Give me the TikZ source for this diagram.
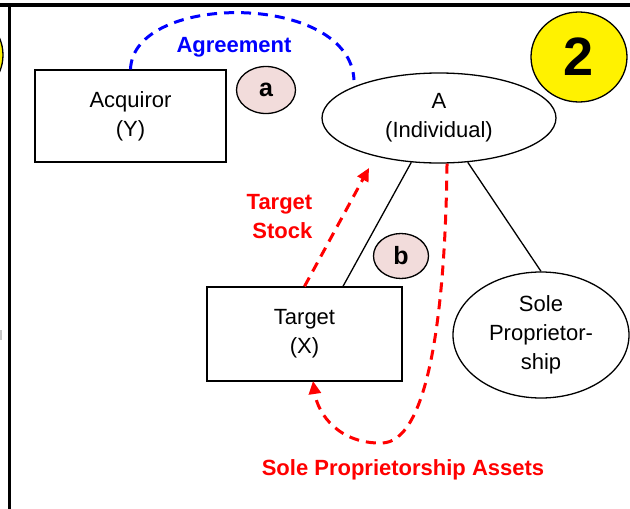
\documentclass[tikz,border=0pt]{standalone}
\usepackage{fontspec}
\setmainfont{Liberation Sans}
\usetikzlibrary{arrows.meta,shapes.geometric}
\definecolor{pinkfill}{HTML}{F2DCDB}
\definecolor{lblred}{HTML}{FF0000}
\definecolor{lblblue}{HTML}{0000FF}
\begin{document}
\begin{tikzpicture}[x=1pt,y=-1pt,
  txt/.style={font=\fontsize{22}{29}\selectfont, align=center, inner sep=0pt},
  boxnode/.style={txt, draw, line width=1.3pt},
  ovalnode/.style={txt, ellipse, draw, line width=1.3pt},
  tagnode/.style={ellipse, draw, line width=1.3pt, fill=pinkfill, inner sep=0pt,
    font=\fontsize{25}{25}\selectfont\bfseries},
  bluelbl/.style={text=lblblue, font=\fontsize{22}{29}\selectfont\bfseries, inner sep=0pt},
  redlbl/.style={text=lblred, font=\fontsize{22}{29}\selectfont\bfseries, inner sep=0pt},
  flowblue/.style={draw=lblblue, line width=3pt, dash pattern=on 10pt off 7pt},
  flowred/.style={draw=lblred, line width=3pt, dash pattern=on 10pt off 7pt,
    -{Triangle[length=13pt,width=12pt]}},
  tie/.style={draw, line width=1.3pt}]
\useasboundingbox (0,0) rectangle (630,509);
% frame
\draw[line width=3.5pt] (0,5) -- (630,5);
\draw[line width=3pt] (9.5,5) -- (9.5,509);
\node[circle, draw, line width=1.3pt, fill=yellow, minimum size=86pt] (leftcirc) at (-40,55) {};
\fill[gray!45] (0,330) rectangle (2,340);
% nodes
\node[boxnode, minimum width=191pt, minimum height=92pt] (acq) at (130.5,116) {Acquiror\\(Y)};
\node[ovalnode, minimum width=234pt, minimum height=90pt] (indiv) at (439,118) {A\\(Individual)};
\node[boxnode, minimum width=195pt, minimum height=94pt] (tgt) at (304.5,334) {Target\\(X)};
\node[ovalnode, minimum width=176pt, minimum height=126pt, yshift=0pt] (sole) at (541,335)
  {\fontsize{22}{28}\selectfont Sole\\Proprietor-\\ship};
\node[tagnode, minimum width=59pt, minimum height=47pt] (taga) at (266,90) {a};
\node[tagnode, minimum width=55pt, minimum height=45pt] (tagb) at (401,256) {b};
\node[ellipse, draw, line width=1.3pt, fill=yellow, minimum width=96pt, minimum height=90pt,
  inner sep=0pt, font=\fontsize{54}{54}\selectfont\bfseries] (two) at (579,57) {2};
% labels
\node[bluelbl] (agr) at (234,47) {Agreement};
\node[redlbl, align=right] (ts) at (279.5,216.5) {Target\\Stock};
\node[redlbl] (spa) at (403,470) {Sole Proprietorship Assets};
% ownership ties
\draw[tie] (indiv.-122) -- (tgt.north east -| 343,0);
\draw[tie] (indiv.-57) -- (sole.north);
% flows
\coordinate (agrend) at (354,80);
\draw[flowblue] (acq.north) .. controls (133,-8) and (350,-8) .. (agrend);
\coordinate (stockend) at (369,168);
\draw[flowred] (tgt.north) -- (stockend);
\coordinate (assetsend) at (313,381);
\draw[flowred] (indiv.-80) .. controls (445,330) and (425,442) .. (382,443)
  .. controls (340,444) and (318,415) .. (assetsend);
\end{tikzpicture}
\end{document}
